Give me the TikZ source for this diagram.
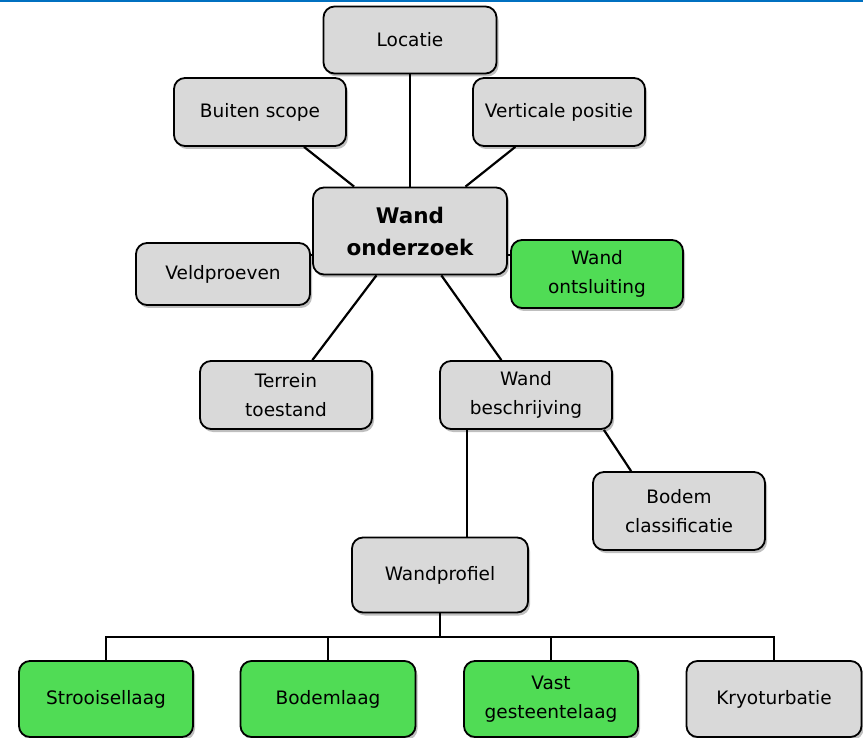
\documentclass[tikz,border=0pt]{standalone}
\usepackage{fontspec}
\setmainfont{DejaVu Sans}
\usetikzlibrary{shadows}
\definecolor{boxgray}{RGB}{217,217,217}
\definecolor{boxgreen}{RGB}{80,220,85}
\definecolor{topblue}{RGB}{0,112,192}
\tikzset{
  box/.style={draw=black, line width=1.8pt, rounded corners=11pt, fill=boxgray,
    align=center, inner sep=0pt, text=black,
    font=\fontsize{18.5}{28.5}\selectfont,
    drop shadow={shadow xshift=2pt, shadow yshift=-3pt, opacity=0.25, fill=black}},
  gbox/.style={box, fill=boxgreen},
  conn/.style={draw=black, line width=2.2pt},
}
\begin{document}
\begin{tikzpicture}[x=1pt,y=-1pt]
\useasboundingbox (0,0) rectangle (863,738);
\fill[topblue] (0,0) rectangle (863,2.2);

\node[box, minimum width=173pt, minimum height=67pt] (loc) at (410,40) {Locatie};
\node[box, minimum width=172pt, minimum height=68pt] (bs) at (260,112) {Buiten scope};
\node[box, minimum width=172pt, minimum height=68pt] (vpos) at (559,112) {Verticale positie};
\node[box, minimum width=194pt, minimum height=87pt, font=\bfseries\fontsize{21.5}{32}\selectfont] (wo) at (410,231) {Wand\\onderzoek};
\node[box, minimum width=174pt, minimum height=62pt] (vp) at (223,274) {Veldproeven};
\node[gbox, minimum width=172pt, minimum height=68pt] (wso) at (597,274) {Wand\\ontsluiting};
\node[box, minimum width=172pt, minimum height=68pt] (tt) at (286,395) {Terrein\\toestand};
\node[box, minimum width=172pt, minimum height=68pt] (wb) at (526,395) {Wand\\beschrijving};
\node[box, minimum width=172pt, minimum height=78pt] (bc) at (679,511) {Bodem\\classificatie};
\node[box, minimum width=176pt, minimum height=75pt] (wp) at (440,575) {Wandprofiel};
\node[gbox, minimum width=174pt, minimum height=76pt] (s1) at (106,699) {Strooisellaag};
\node[gbox, minimum width=175pt, minimum height=76pt] (s2) at (328,699) {Bodemlaag};
\node[gbox, minimum width=174pt, minimum height=76pt] (s3) at (551,699) {Vast\\gesteentelaag};
\node[box, minimum width=175pt, minimum height=76pt] (s4) at (774,699) {Kryoturbatie};

\coordinate (bus) at (440,637);

\draw[conn] (loc) -- (wo);
\draw[conn] (bs) -- (wo);
\draw[conn] (vpos) -- (wo);
\draw[conn] (wo) -- (tt);
\draw[conn] (wo) -- (wb);
\draw[conn] (vp.east |- {(0,255)}) -- (wo.west |- {(0,255)});
\draw[conn] (wo.east |- {(0,255)}) -- (wso.west |- {(0,255)});
\draw[conn] ([xshift=-9pt]wb.south east) -- ([xshift=39pt]bc.north west);
\draw[conn] (wb.south -| {(467,0)}) -- (wp.north -| {(467,0)});
\draw[conn] (wp.south) -- (bus);
\draw[conn] (s1.north) |- (bus) -| (s4.north);
\draw[conn] (s2.north) -- (s2.north |- bus);
\draw[conn] (s3.north) -- (s3.north |- bus);
\end{tikzpicture}
\end{document}
